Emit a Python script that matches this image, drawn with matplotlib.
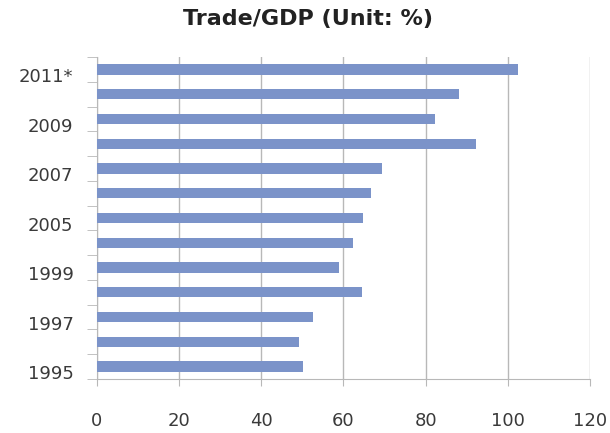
#!/usr/bin/env python3
"""Trade/GDP horizontal bar chart."""

import matplotlib
matplotlib.use("Agg")
import matplotlib.pyplot as plt
import matplotlib.transforms as mtransforms

# bottom to top
years = ["1995", "1996", "1997", "1998", "1999", "2000", "2005",
         "2006", "2007", "2008", "2009", "2010", "2011*"]
trade_gdp = [50.2, 49.2, 52.7, 64.4, 58.8, 62.3, 64.7,
             66.7, 69.5, 92.2, 82.4, 88.1, 102.5]
x_ticks = [0, 20, 40, 60, 80, 100, 120]

BAR = "#7b93c9"
GRID = "#b8b8b8"
TEXT = "#3a3a3a"

fig = plt.figure(figsize=(6.1, 4.33), dpi=100)
ax = fig.add_axes([0.159, 0.125, 0.808, 0.743])

pos = list(range(len(years)))
ax.barh(pos, trade_gdp, height=0.42, color=BAR, zorder=3)

ax.set_xlim(0, 120)
ax.set_ylim(-0.5, len(years) - 0.5)
ax.set_xticks(x_ticks)
ax.set_xticklabels([str(t) for t in x_ticks], fontsize=13, color=TEXT)
ax.tick_params(axis="x", length=5, color=GRID, pad=19)

# label every other year, Excel style
ax.set_yticks(pos)
ax.set_yticklabels([y if i % 2 == 0 else "" for i, y in enumerate(years)],
                   fontsize=13, color=TEXT)
ax.tick_params(axis="y", which="major", length=0, pad=17)
ax.set_yticks([p + 0.5 for p in pos[:-1]] + [-0.5, len(years) - 0.5], minor=True)
ax.tick_params(axis="y", which="minor", length=7, color=GRID)

offset = mtransforms.ScaledTranslation(0, -4 / 72, fig.dpi_scale_trans)
for lab in ax.get_yticklabels():
    lab.set_transform(lab.get_transform() + offset)

ax.grid(axis="x", color=GRID, linewidth=1, zorder=0)
for side in ("top", "right"):
    ax.spines[side].set_visible(False)
for side in ("left", "bottom"):
    ax.spines[side].set_color(GRID)

fig.text(0.505, 0.957, "Trade/GDP (Unit: %)", ha="center", va="center",
         fontsize=16, fontweight="bold", color="#222222")

fig.savefig("out.png", dpi=100)
